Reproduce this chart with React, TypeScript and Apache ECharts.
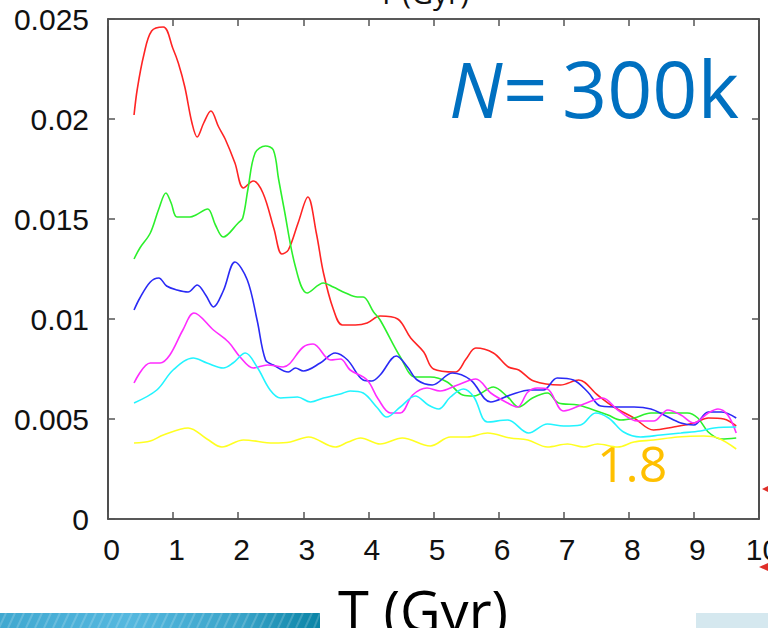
import React, { useEffect, useRef } from "react";
import * as echarts from "echarts";

// ---- Data ----
const xTicks = [0, 1, 2, 3, 4, 5, 6, 7, 8, 9, 10];
const yTickLabels = ["0", "0.005", "0.01", "0.015", "0.02", "0.025"];

const redT = [0.4, 0.45, 0.55, 0.67, 0.85, 1.0, 1.08, 1.18, 1.29, 1.37, 1.47, 1.58, 1.7, 1.8, 1.95, 2.08, 2.23, 2.38, 2.55, 2.67, 2.77, 2.92, 3.07, 3.2, 3.31, 3.46, 3.6, 3.8, 3.98, 4.18, 4.45, 4.65, 4.85, 5.0, 5.34, 5.5, 5.65, 5.92, 6.15, 6.31, 6.54, 6.95, 7.23, 7.52, 7.77, 8.08, 8.38, 8.69, 9.0, 9.22, 9.46, 9.65];
const redV = [0.0202, 0.0215, 0.0232, 0.0244, 0.0246, 0.0235, 0.0228, 0.0216, 0.0198, 0.0191, 0.0198, 0.0204, 0.0196, 0.019, 0.0178, 0.01655, 0.0169, 0.0163, 0.0145, 0.01325, 0.01345, 0.0148, 0.0161, 0.0143, 0.0123, 0.0105, 0.0097, 0.0097, 0.0098, 0.01015, 0.01, 0.00905, 0.00835, 0.0075, 0.00735, 0.008, 0.00855, 0.0083, 0.0076, 0.00745, 0.0069, 0.0067, 0.00695, 0.0062, 0.0056, 0.00505, 0.00445, 0.0046, 0.0048, 0.00505, 0.005, 0.00465];

const greenT = [0.4, 0.49, 0.65, 0.78, 0.89, 0.97, 1.06, 1.26, 1.35, 1.53, 1.65, 1.77, 2.0, 2.07, 2.15, 2.26, 2.42, 2.54, 2.62, 2.7, 2.88, 3.06, 3.31, 3.46, 3.65, 3.83, 3.92, 4.08, 4.18, 4.49, 4.72, 4.95, 5.21, 5.45, 5.62, 5.92, 6.14, 6.31, 6.52, 6.75, 6.92, 7.22, 7.46, 7.68, 7.88, 8.08, 8.34, 8.6, 8.9, 9.06, 9.22, 9.42, 9.65];
const greenV = [0.013, 0.01355, 0.0143, 0.0155, 0.0163, 0.0158, 0.0151, 0.0151, 0.0152, 0.0155, 0.0147, 0.0141, 0.0148, 0.01505, 0.0165, 0.0183, 0.01865, 0.01845, 0.017, 0.0156, 0.0126, 0.0113, 0.0118, 0.0116, 0.0113, 0.0111, 0.0111, 0.01035, 0.00995, 0.0081, 0.0071, 0.0071, 0.00685, 0.0062, 0.00615, 0.0066, 0.0061, 0.0056, 0.00605, 0.0063, 0.0058, 0.0057, 0.00545, 0.0052, 0.00495, 0.00505, 0.0053, 0.0053, 0.0053, 0.00505, 0.00435, 0.004, 0.00405];

const blueT = [0.4, 0.49, 0.65, 0.78, 0.9, 1.06, 1.23, 1.37, 1.5, 1.62, 1.77, 1.95, 2.14, 2.29, 2.42, 2.54, 2.77, 2.88, 3.0, 3.26, 3.49, 3.68, 3.92, 4.05, 4.18, 4.43, 4.6, 4.75, 4.98, 5.29, 5.57, 5.88, 6.18, 6.49, 6.69, 6.9, 7.15, 7.37, 7.57, 7.88, 8.08, 8.34, 8.54, 8.8, 9.0, 9.22, 9.42, 9.65];
const blueV = [0.01045, 0.01105, 0.01185, 0.01205, 0.01165, 0.01145, 0.01135, 0.0117, 0.0112, 0.0106, 0.0114, 0.01285, 0.01195, 0.00995, 0.00795, 0.0077, 0.00735, 0.00755, 0.0074, 0.0078, 0.0083, 0.00795, 0.00695, 0.0069, 0.0072, 0.00815, 0.0076, 0.00695, 0.0067, 0.0073, 0.00695, 0.00585, 0.0062, 0.00645, 0.00645, 0.00705, 0.00695, 0.00635, 0.00565, 0.0056, 0.0056, 0.0055, 0.0052, 0.0048, 0.0047, 0.00535, 0.00535, 0.00505];

const magentaT = [0.4, 0.65, 0.8, 0.95, 1.15, 1.32, 1.62, 1.85, 2.03, 2.23, 2.45, 2.69, 3.0, 3.15, 3.42, 3.57, 3.72, 3.98, 4.15, 4.34, 4.49, 4.68, 4.9, 5.1, 5.37, 5.65, 5.88, 6.14, 6.29, 6.45, 6.6, 6.75, 7.0, 7.31, 7.6, 7.83, 8.14, 8.38, 8.6, 8.8, 9.0, 9.22, 9.37, 9.52, 9.65];
const magentaV = [0.0068, 0.0078, 0.0078, 0.0082, 0.00945, 0.0103, 0.00945, 0.00885, 0.0081, 0.00755, 0.0077, 0.0076, 0.0086, 0.00875, 0.00795, 0.008, 0.00745, 0.00695, 0.006, 0.0053, 0.0053, 0.0062, 0.00655, 0.0064, 0.0067, 0.007, 0.0063, 0.0058, 0.0056, 0.00635, 0.00655, 0.0065, 0.0054, 0.00575, 0.00605, 0.00545, 0.0049, 0.0049, 0.00545, 0.0052, 0.0048, 0.0053, 0.0055, 0.0052, 0.0043];

const cyanT = [0.4, 0.75, 1.0, 1.31, 1.52, 1.77, 1.92, 2.11, 2.29, 2.49, 2.65, 2.91, 3.11, 3.31, 3.57, 3.72, 3.92, 4.14, 4.28, 4.49, 4.72, 4.92, 5.08, 5.26, 5.46, 5.62, 5.83, 6.14, 6.46, 6.75, 7.0, 7.26, 7.49, 7.69, 7.92, 8.18, 8.49, 8.8, 9.1, 9.31, 9.65];
const cyanV = [0.0058, 0.00645, 0.00745, 0.00805, 0.0078, 0.00755, 0.0078, 0.0083, 0.0076, 0.00645, 0.00605, 0.0061, 0.00585, 0.00605, 0.00625, 0.0064, 0.0063, 0.00555, 0.0051, 0.0056, 0.00615, 0.0057, 0.0055, 0.0061, 0.0065, 0.0061, 0.00485, 0.00495, 0.0043, 0.00475, 0.00465, 0.0047, 0.0053, 0.00505, 0.00435, 0.0041, 0.0042, 0.0043, 0.0044, 0.00455, 0.0046];

const yellowT = [0.4, 0.65, 0.85, 1.23, 1.52, 1.75, 2.08, 2.54, 2.8, 3.08, 3.49, 3.69, 3.88, 4.18, 4.52, 4.95, 5.26, 5.52, 5.83, 6.18, 6.45, 6.75, 7.06, 7.31, 7.52, 7.83, 8.08, 8.38, 8.75, 9.15, 9.37, 9.65];
const yellowV = [0.0038, 0.0039, 0.0042, 0.00455, 0.004, 0.0036, 0.00395, 0.0038, 0.00385, 0.0041, 0.0036, 0.00385, 0.00405, 0.00375, 0.00405, 0.00365, 0.0041, 0.0041, 0.0043, 0.00405, 0.00395, 0.0036, 0.00375, 0.0036, 0.00375, 0.0036, 0.00385, 0.00395, 0.0041, 0.00415, 0.00405, 0.0035];

const seriesDefs = [
  { name: "red", t: redT, v: redV, color: "#ff2424" },
  { name: "green", t: greenT, v: greenV, color: "#2cf02c" },
  { name: "blue", t: blueT, v: blueV, color: "#2a2af5" },
  { name: "magenta", t: magentaT, v: magentaV, color: "#ff2cff" },
  { name: "cyan", t: cyanT, v: cyanV, color: "#22f4ff" },
  { name: "yellow", t: yellowT, v: yellowV, color: "#ffff22" },
];

const zip = (t: number[], v: number[]) => t.map((x, i) => [x, v[i]]);

export default function App() {
  const ref = useRef<HTMLDivElement>(null);

  useEffect(() => {
    document.body.style.margin = "0";
    document.body.style.overflow = "hidden";
    document.documentElement.style.overflow = "hidden";
    if (!ref.current) return;
    const chart = echarts.init(ref.current, undefined, { renderer: "svg", width: 768, height: 628 });

    const axisLine = { show: true, onZero: false, lineStyle: { color: "#222", width: 1.6 } };
    const axisTick = { show: true, inside: true, length: 7, lineStyle: { color: "#555", width: 1.5 } };
    const labelFont = { fontSize: 30, color: "#111", fontFamily: "Liberation Sans, Arial, sans-serif" };

    // decorative stripes on the bottom-left banner
    const stripes: any[] = [];
    for (let x = -10; x < 320; x += 9) {
      stripes.push({
        type: "line", silent: true,
        shape: { x1: x, y1: 628, x2: Math.min(x + 7, 320), y2: 613 },
        style: { stroke: "rgba(255,255,255,0.18)", lineWidth: 2 },
      });
    }

    chart.setOption({
      animation: false,
      backgroundColor: "#ffffff",
      grid: { left: 108, right: 9, top: 19, bottom: 109, containLabel: false, outerBoundsMode: "none" },
      xAxis: [
        {
          type: "value", min: xTicks[0], max: xTicks[xTicks.length - 1], interval: 1, position: "bottom",
          axisLine, axisTick, splitLine: { show: false },
          axisLabel: { ...labelFont, margin: 15, showMaxLabel: true, padding: [0, 0, 0, 7] },
        },
        {
          type: "value", min: xTicks[0], max: xTicks[xTicks.length - 1], interval: 1, position: "top",
          axisLine, axisTick, splitLine: { show: false }, axisLabel: { show: false },
        },
      ],
      yAxis: [
        {
          type: "value", min: 0, max: 0.025, interval: 0.005, position: "left",
          axisLine, axisTick, splitLine: { show: false },
          axisLabel: {
            ...labelFont, margin: 19,
            formatter: (val: number) => yTickLabels[Math.round(val / 0.005)] ?? String(val),
          },
        },
        {
          type: "value", min: 0, max: 0.025, interval: 0.005, position: "right",
          axisLine, axisTick, splitLine: { show: false }, axisLabel: { show: false },
        },
      ],
      series: seriesDefs.map((s) => ({
        name: s.name,
        type: "line",
        xAxisIndex: 0,
        yAxisIndex: 0,
        data: zip(s.t, s.v),
        smooth: 0.35,
        showSymbol: false,
        symbol: "none",
        lineStyle: { color: s.color, width: 1.6 },
        itemStyle: { color: s.color },
        z: 3,
      })),
      graphic: [
        {
          type: "text", x: 378, y: -8, silent: true,
          style: { text: "T (Gyr)", fontSize: 30, fontFamily: "Open Sans", fill: "#111", verticalAlign: "middle", align: "left" },
        },
        {
          type: "text", x: 449, y: 88, silent: true,
          style: { text: "N", fontSize: 76, fontStyle: "italic", fontFamily: "Open Sans", fill: "#0070C0", verticalAlign: "middle", align: "left" },
        },
        {
          type: "text", x: 503, y: 88, silent: true,
          style: { text: "=", fontSize: 78, fontFamily: "Open Sans", fill: "#0070C0", verticalAlign: "middle", align: "left" },
        },
        {
          type: "text", x: 562, y: 87, silent: true,
          style: { text: "300k", fontSize: 79, fontFamily: "Open Sans", fill: "#0070C0", verticalAlign: "middle", align: "left" },
        },
        {
          type: "text", x: 597, y: 463, silent: true,
          style: { text: "1.8", fontSize: 50, fontFamily: "Open Sans", fill: "#FFC000", verticalAlign: "middle", align: "left" },
        },
        {
          type: "text", x: 338, y: 610, silent: true,
          style: { text: "T (Gyr)", fontSize: 56, fontFamily: "Open Sans", fill: "#000", verticalAlign: "middle", align: "left" },
        },
        {
          type: "rect", shape: { x: 0, y: 613, width: 320, height: 15 }, silent: true,
          style: {
            fill: new echarts.graphic.LinearGradient(0, 0, 1, 0, [
              { offset: 0, color: "#40a8d0" },
              { offset: 0.4, color: "#55b8df" },
              { offset: 0.75, color: "#3aa4c9" },
              { offset: 1, color: "#0a84a6" },
            ]),
          },
        },
        ...stripes,
        {
          type: "rect", shape: { x: 696, y: 613, width: 72, height: 15 }, silent: true,
          style: { fill: "#d5e8ef" },
        },
        {
          type: "polygon", shape: { points: [[762, 489], [768, 486], [768, 492]] }, silent: true,
          style: { fill: "#e0302a" },
        },
        {
          type: "polygon", shape: { points: [[759, 567], [768, 563], [768, 571]] }, silent: true,
          style: { fill: "#e0302a" },
        },
      ],
    });

    return () => chart.dispose();
  }, []);

  return <div ref={ref} style={{ position: "fixed", left: 0, top: 0, width: 768, height: 628, overflow: "hidden" }} />;
}
